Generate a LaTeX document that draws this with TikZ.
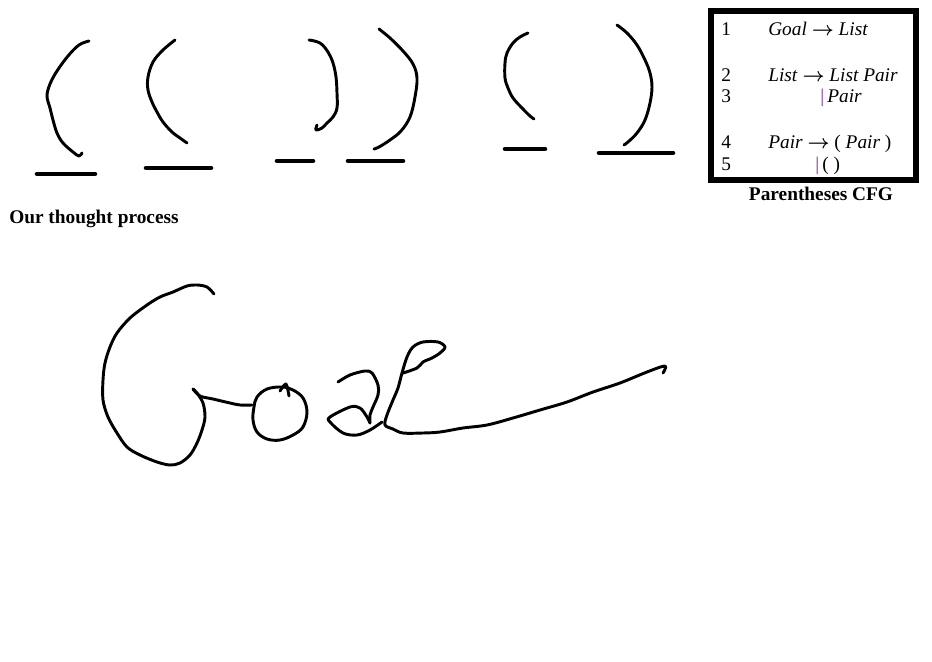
\documentclass[tikz,border=0pt]{standalone}
\usepackage{amsmath, amssymb}
\usepackage{fontspec}
\setmainfont{Liberation Serif}
\usepackage{tikz}

\definecolor{barpurple}{RGB}{112,48,160}

\tikzset{
  pen/.style={line width=2.2pt, line cap=round, line join=round},
  rule/.style={line width=3.4pt, line cap=round},
  cfg/.style={anchor=base west, inner sep=0pt, font=\fontsize{14.5}{17}\selectfont},
  heading/.style={anchor=base west, inner sep=0pt, font=\fontsize{14.5}{17}\selectfont\bfseries}
}
\newcommand{\derives}{ $\boldsymbol{\rightarrow}$ }

\begin{document}
\begin{tikzpicture}[x=0.75pt, y=-0.75pt]

\useasboundingbox (0,0) rectangle (932,661);

% parentheses sketched above the board
\draw[pen] plot[smooth, tension=0.6] coordinates {(89,41) (79,45) (68,56) (57,71) (50,84) (47,96) (50,108) (53,120) (57,133) (63,143) (73,152) (79,156) (82,153)};
\draw[pen] plot[smooth, tension=0.6] coordinates {(175,40) (163,50) (153,62) (148,77) (148,90) (152,102) (157,112) (163,122) (172,132) (180,138) (187,143)};
\draw[pen] plot[smooth, tension=0.6] coordinates {(309,40) (320,43) (328,52) (333,63) (336,77) (337,93) (337,108) (333,117) (327,123) (322,128) (316,130) (317,125)};
\draw[pen] plot[smooth, tension=0.6] coordinates {(379,29) (390,38) (403,51) (413,64) (417,78) (415,97) (410,117) (401,131) (390,140) (379,147) (374,149)};
\draw[pen] plot[smooth, tension=0.6] coordinates {(528,33) (520,37) (513,43) (507,53) (505,63) (505,78) (508,88) (513,98) (522,108) (530,116) (534,119)};
\draw[pen] plot[smooth, tension=0.6] coordinates {(617,25) (627,33) (637,45) (645,60) (650,73) (652,87) (650,103) (645,120) (637,133) (628,142) (624,145)};

% rules under each parenthesis
\foreach \xa/\xb/\yy in {37/95/174, 146/211/168, 277/313/161, 348/403/161, 505/545/149, 599/673/153}
  \draw[rule] (\xa,\yy) -- (\xb,\yy);

% grammar box
\draw[line width=3.8pt] (711,11) rectangle (916,180);
\node[cfg] (n1) at (721,35) {1};
\node[cfg] (r1) at (768,35) {\textit{Goal}\derives\textit{List}};
\node[cfg] (n2) at (721,81) {2};
\node[cfg] (r2) at (768,81) {\textit{List}\derives\textit{List Pair}};
\node[cfg] (n3) at (721,102) {3};
\node[cfg] (r3) at (820,102) {\textcolor{barpurple}{|}\,\textit{Pair}};
\node[cfg] (n4) at (721,148) {4};
\node[cfg] (r4) at (768,148) {\textit{Pair}\derives( \textit{Pair} )};
\node[cfg] (n5) at (721,170) {5};
\node[cfg] (r5) at (815,170) {\textcolor{barpurple}{|}\,( )};
\node[heading, anchor=base] (cfgtitle) at (821,200) {Parentheses CFG};

\node[heading] (thought) at (9,223) {Our thought process};

% handwritten word
\draw[pen] plot[smooth, tension=0.55] coordinates {(214,294) (207,287) (197,285) (187,286) (173,292) (160,297) (147,305) (130,318) (117,333) (110,347) (105,363) (103,380) (103,400) (108,417) (117,433) (127,447) (140,455) (157,462) (170,465) (180,463) (190,455) (197,443) (202,430) (205,417) (203,403) (197,393) (193,389)};
\draw[pen] plot[smooth, tension=0.55] coordinates {(193,389) (200,396) (213,399) (230,403) (240,405) (252,405)};
\draw[pen] plot[smooth cycle, tension=0.6] coordinates {(257,397) (267,389) (282,387) (293,390) (303,398) (307,412) (303,427) (293,435) (280,440) (267,439) (257,432) (253,420) (254,407)};
\draw[pen] plot[smooth, tension=0.5] coordinates {(280,391) (286,384) (289,396)};
\draw[pen] plot[smooth, tension=0.55] coordinates {(338,382) (350,375) (365,371) (372,373) (378,385) (378,395) (373,407) (370,415) (370,423)};
\draw[pen] plot[smooth, tension=0.55] coordinates {(370,423) (367,417) (360,408) (350,407) (330,417) (330,422) (343,433) (357,435) (370,430) (382,422)};
\draw[pen] plot[smooth, tension=0.55] coordinates {(403,373) (417,368) (423,362) (432,358) (440,353) (445,347) (438,342) (423,342) (413,347) (407,357) (402,373) (398,388) (393,400) (387,415) (385,425) (393,429) (403,433) (423,433) (440,432) (463,428) (487,425) (513,418) (540,410) (567,402) (593,392) (620,383) (647,372) (665,366) (663,373)};

\end{tikzpicture}
\end{document}
